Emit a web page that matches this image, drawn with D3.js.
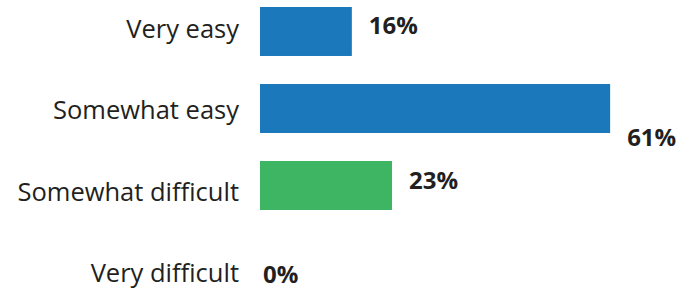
<!DOCTYPE html>
<html>
<head>
<meta charset="utf-8">
<script src="https://cdn.jsdelivr.net/npm/d3@7"></script>
<style>
  body { margin: 0; background: #fff; }
  text { font-family: "Open Sans", sans-serif; fill: #231f20; }
</style>
</head>
<body>
<div id="chart"></div>
<script>
// Chart data
const categories = ["Very easy", "Somewhat easy", "Somewhat difficult", "Very difficult"];
const values = [16, 61, 23, 0];
const barColors = ["#1b78bb", "#1b78bb", "#3db562", "#3db562"];

const width = 682, height = 289;

const svg = d3.select("#chart")
    .append("svg")
    .attr("width", width)
    .attr("height", height);

// Scales
const xScale = d3.scaleLinear()
    .domain([0, 100])
    .range([260, 834]);

const yScale = d3.scaleBand()
    .domain(categories)
    .range([7, 287])
    .paddingInner(0.364)
    .paddingOuter(0);

// category labels sit on their own baselines
const labelY = d3.scalePoint()
    .domain(categories)
    .range([38, 282]);

// Bars
svg.selectAll(".bar")
    .data(categories)
    .enter()
    .append("rect")
    .attr("class", "bar")
    .attr("x", xScale(0))
    .attr("y", d => yScale(d))
    .attr("width", (d, i) => xScale(values[i]) - xScale(0))
    .attr("height", yScale.bandwidth())
    .attr("fill", (d, i) => barColors[i]);

// Category labels
svg.selectAll(".cat-label")
    .data(categories)
    .enter()
    .append("text")
    .attr("class", "cat-label")
    .attr("x", 239)
    .attr("y", d => labelY(d))
    .attr("text-anchor", "end")
    .style("font-size", "25.5px")
    .text(d => d);

// Value labels
svg.selectAll(".val-label")
    .data(categories)
    .enter()
    .append("text")
    .attr("class", "val-label")
    .style("font-size", "24px")
    .style("font-weight", "700")
    .text((d, i) => values[i] + "%")
    .each(function (d, i) {
        const el = d3.select(this);
        const w = this.getComputedTextLength();
        let x = xScale(values[i]) + 17;
        let y = yScale(d) + yScale.bandwidth() / 2 + 3;
        if (values[i] === 0) {
            x = xScale(0) + 3;
            y = labelY(d) + 1;
        } else if (x + w > width - 10) {
            // not enough room: drop it under the bar end
            y = yScale(d) + yScale.bandwidth() + 13;
        }
        el.attr("x", x).attr("y", y);
    });
</script>
</body>
</html>
